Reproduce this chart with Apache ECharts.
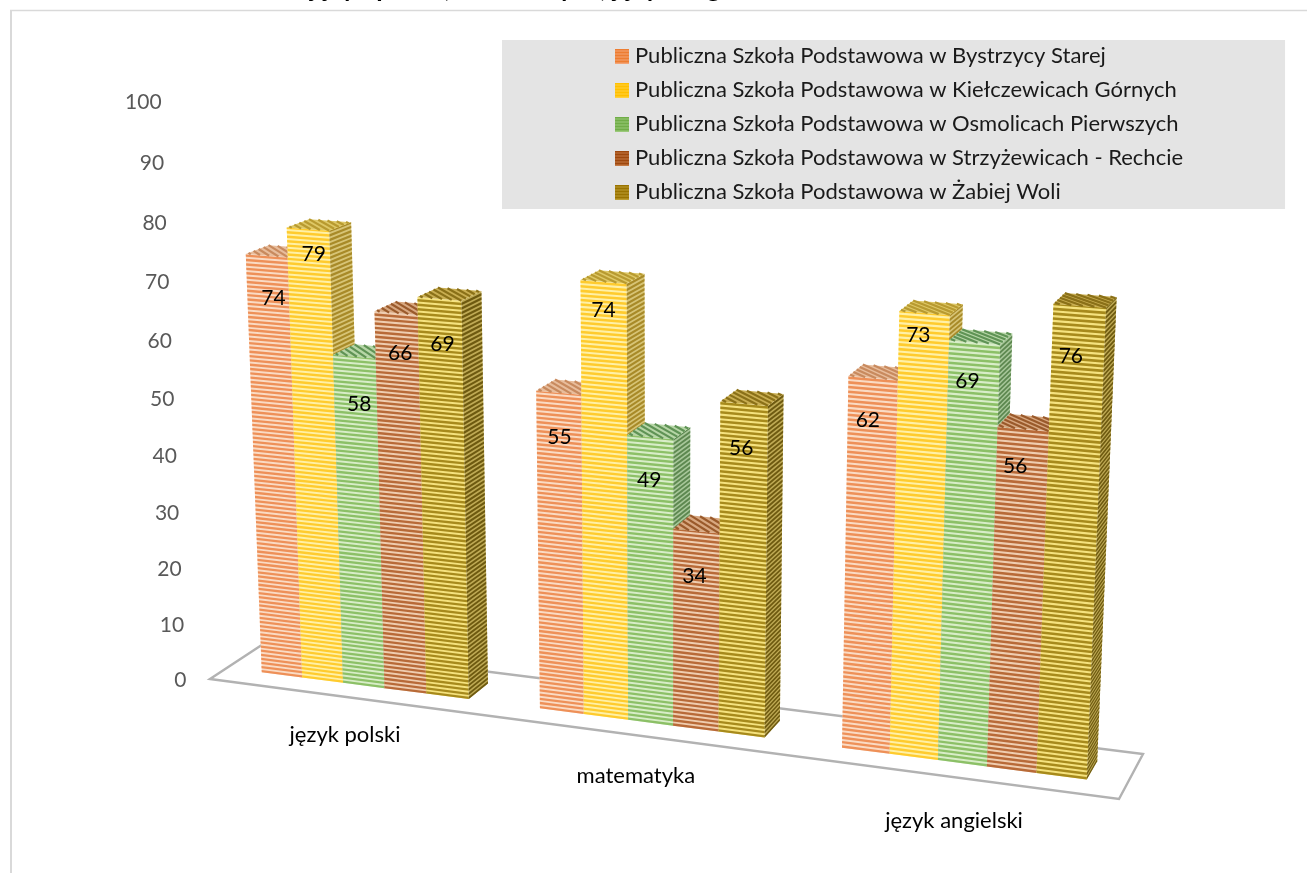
<!DOCTYPE html>
<html><head><meta charset="utf-8"><style>html,body{margin:0;padding:0;background:#fff}#c{width:1307px;height:873px}</style>
<script src="https://cdn.jsdelivr.net/npm/echarts@6/dist/echarts.min.js"></script></head>
<body><div id="c"></div><script>
const categories = ['język polski','matematyka','język angielski'];
const schools = ['Publiczna Szkoła Podstawowa w Bystrzycy Starej','Publiczna Szkoła Podstawowa w Kiełczewicach Górnych','Publiczna Szkoła Podstawowa w Osmolicach Pierwszych','Publiczna Szkoła Podstawowa w Strzyżewicach - Rechcie','Publiczna Szkoła Podstawowa w Żabiej Woli'];
const bystrzyca = [74,55,62];
const kielczewice = [79,74,73];
const osmolice = [58,49,69];
const strzyzewice = [66,34,56];
const zabiaWola = [69,56,76];
const yTicks = [0,10,20,30,40,50,60,70,80,90,100];
const titleText = 'język polski, matematyka, język angielski';

const seriesValues = [bystrzyca,kielczewice,osmolice,strzyzewice,zabiaWola];
// label drop below each bar's front top edge, px (school, then category)
const labelDrop = [[43,45,42],[25,29,22],[48,43,39],[40,45,37],[45,45,51]];
const palette = [
 {icon:['#ED7D31','#F4A577'],front:['#EE9058','#FADBC4'],side:['#C47B4B','#E8B896'],top:['#C88A5E','#E8BD9C']},
 {icon:['#FFC000','#FFD040'],front:['#FFCB2E','#FFF0A6'],side:['#A88A28','#D7C476'],top:['#B89A30','#DEC866']},
 {icon:['#70AD47','#9BC97A'],front:['#8CC067','#D8EDC8'],side:['#5D8850','#A8C79A'],top:['#5F9355','#B7D6A7']},
 {icon:['#9E480E','#C47A46'],front:['#B86A38','#EFCDB0'],side:['#8A4A1F','#D0A07A'],top:['#9A5A2B','#D8A881']},
 {icon:['#997300','#BD9E33'],front:['#A78A1C','#F5E27E'],side:['#6E5A10','#BFAA55'],top:['#8A7018','#C9AE52']}
];
// perspective model: floor corners, vertical vanishing point
const A=[210,679],B=[1119,799],C=[1143,754],D=[264,643.5],VP=[662,11140],KV=-0.0523,KX=-0.018;
const FRONT=0.31,BACK=0.72,GAP=1.65,STEP=0.0075,XSHIFT=0.002;
const dx1=B[0]-C[0],dx2=D[0]-C[0],sx=A[0]-B[0]+C[0]-D[0],dy1=B[1]-C[1],dy2=D[1]-C[1],sy=A[1]-B[1]+C[1]-D[1];
const den=dx1*dy2-dx2*dy1,g=(sx*dy2-dx2*sy)/den,h=(dx1*sy-sx*dy1)/den;
const a=B[0]-A[0]+g*B[0],b=D[0]-A[0]+h*D[0],d=B[1]-A[1]+g*B[1],e=D[1]-A[1]+h*D[1];
function P(X,Y,Z){const v=Y*KV*(1+KX*X),w=g*X+h*Z+1+v;
 return [(a*X+b*Z+A[0]+v*VP[0])/w,(d*X+e*Z+A[1]+v*VP[1])/w];}
function world(api,params,cat,val){const c=api.coord([cat,val]),s=params.coordSys;
 return {X:(c[0]-s.x)/s.width,Y:(s.y+s.height-c[1])/s.height,band:api.size([1,0])[0]/s.width};}

function quad(pts,fill){return {type:'polygon',shape:{points:pts},style:{fill:fill,stroke:null},silent:true};}
function face(children,f,Ytop,col){
 children.push(quad([f(0),f(1),f(1,Ytop),f(0,Ytop)],col[1]));
 for(let y=0;y<Ytop;y+=STEP){const t=Math.min(y+STEP*0.55,Ytop);
  children.push(quad([f(0,y),f(1,y),f(1,t),f(0,t)],col[0]));}
}
function barRender(si){return function(params,api){
 const cat=api.value(0),val=api.value(1),w=world(api,params,cat,val),bw=w.band/(5+GAP);
 const x0=w.X+XSHIFT+(si-2.5)*bw,x1=x0+bw,Y=w.Y,pal=palette[si],ch=[];
 face(ch,(u,y)=>P(u?x1:x0,y||0,FRONT),Y,pal.front);
 face(ch,(u,y)=>P(x1,y||0,u?BACK:FRONT),Y,pal.side);
 const tf=(u,v)=>P(x0+(x1-x0)*u,Y,FRONT+(BACK-FRONT)*v);
 ch.push(quad([tf(0,0),tf(1,0),tf(1,1),tf(0,1)],pal.top[1]));
 for(let t=0.12;t<2;t+=0.22){const m=Math.min(t,1),p=tf(m,t-m),q=tf(t-m,m);
  ch.push({type:'line',shape:{x1:p[0],y1:p[1],x2:q[0],y2:q[1]},style:{stroke:pal.top[0],lineWidth:2.2},silent:true});}
 const c=P(x0+bw/2,Y,FRONT),xm=x0+bw/2;
 ch.push({type:'text',z2:100,silent:true,style:{text:String(val),x:c[0]+8-18*xm,y:c[1]+labelDrop[si][cat],align:'center',verticalAlign:'middle',fill:'#000',font:'21px Lato'}});
 return {type:'group',children:ch};
};}
function iconOf(col){const cv=document.createElement('canvas');cv.width=14;cv.height=15;const x=cv.getContext('2d');
 x.fillStyle=col[1];x.fillRect(0,0,14,15);x.fillStyle=col[0];for(let i=0;i<15;i+=3)x.fillRect(0,i,14,2);
 return 'image://'+cv.toDataURL();}

const series=[
 {type:'custom',name:'floor',coordinateSystem:'cartesian2d',data:[[0,0]],silent:true,z:1,clip:false,
  renderItem(){return {type:'polygon',shape:{points:[P(0,0,0),P(1,0,0),P(1,0,1),P(0,0,1)]},style:{fill:'#fff',stroke:'#B2B2B2',lineWidth:2.4},silent:true};}},
 {type:'custom',name:'ticks',coordinateSystem:'cartesian2d',data:yTicks.map(t=>[0,t]),silent:true,z:2,clip:false,
  renderItem(params,api){const w=world(api,params,0,api.value(1)),p=P(0,w.Y,0);
   return {type:'text',style:{text:String(api.value(1)),x:p[0]-23.5,y:p[1]+1,align:'right',verticalAlign:'middle',fill:'#595959',font:'21px Lato'},silent:true};}},
 {type:'custom',name:'cats',coordinateSystem:'cartesian2d',data:categories.map((c,i)=>[i,0]),silent:true,z:2,clip:false,
  renderItem(params,api){const i=api.value(0),w=world(api,params,i,0),p=P(w.X,0,-0.9);
   return {type:'text',style:{text:categories[i],x:p[0]+51-22*w.X,y:p[1]+2,align:'center',verticalAlign:'middle',fill:'#000',font:'22px Lato'},silent:true};}}
];
schools.forEach((n,si)=>series.push({type:'custom',name:n,coordinateSystem:'cartesian2d',z:3+si,clip:false,silent:true,
 data:seriesValues[si].map((v,i)=>[i,v]),itemStyle:{color:palette[si].icon[0]},renderItem:barRender(si)}));

const chart=echarts.init(document.getElementById('c'),null,{renderer:'canvas'});
chart.setOption({animation:false,backgroundColor:'#fff',
 title:{text:titleText,left:310,top:-24,padding:0,textStyle:{fontFamily:'Lato',fontWeight:'bold',fontSize:26,color:'#000'}},
 grid:{left:100,right:100,top:100,bottom:100,show:false},
 xAxis:{type:'category',data:categories,show:false},
 yAxis:{type:'value',min:0,max:100,interval:10,show:false},
 legend:{orient:'vertical',left:502,top:40,padding:[5,102,6,113],backgroundColor:'#E4E4E4',itemWidth:14,itemHeight:15,itemGap:12,align:'left',selectedMode:false,
  textStyle:{fontFamily:'Lato',fontSize:22,color:'#1a1a1a',lineHeight:22,padding:[0,0,0,1]},
  data:schools.map((n,i)=>({name:n,icon:iconOf(palette[i].icon)}))},
 graphic:[{type:'line',silent:true,shape:{x1:10,y1:10.5,x2:1307,y2:10.5},style:{stroke:'#D9D9D9',lineWidth:1.5}},
  {type:'line',silent:true,shape:{x1:11,y1:10,x2:11,y2:873},style:{stroke:'#D9D9D9',lineWidth:2}}],
 series:series});
</script></body></html>
